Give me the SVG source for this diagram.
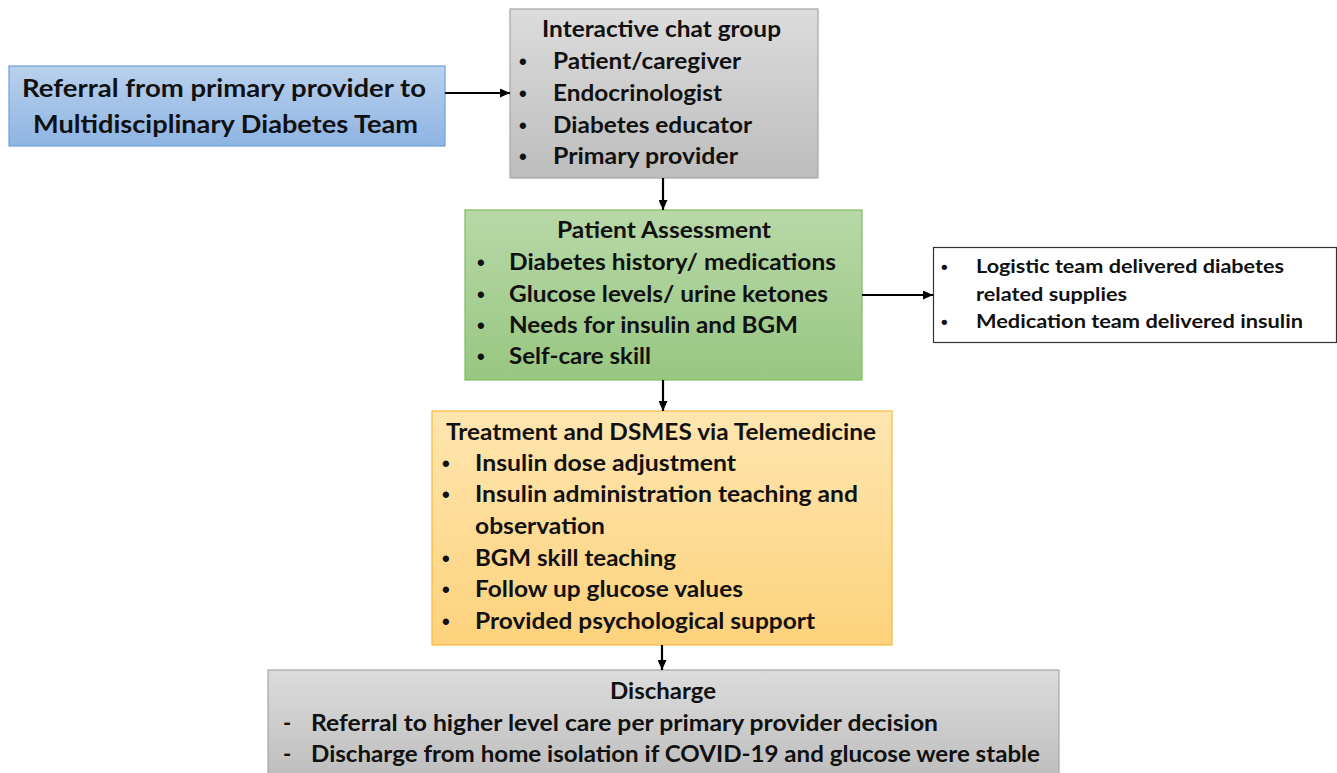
<svg xmlns="http://www.w3.org/2000/svg" width="1337" height="773" viewBox="0 0 1337 773">
<defs>
<linearGradient id="gBlue" x1="0" y1="0" x2="0" y2="1"><stop offset="0" stop-color="#b9d1ec"/><stop offset="1" stop-color="#8eb4e3"/></linearGradient>
<linearGradient id="gGray" x1="0" y1="0" x2="0" y2="1"><stop offset="0" stop-color="#dcdcdc"/><stop offset="1" stop-color="#bdbdbd"/></linearGradient>
<linearGradient id="gGreen" x1="0" y1="0" x2="0" y2="1"><stop offset="0" stop-color="#b8d8a8"/><stop offset="1" stop-color="#98c781"/></linearGradient>
<linearGradient id="gOrange" x1="0" y1="0" x2="0" y2="1"><stop offset="0" stop-color="#fee6b0"/><stop offset="1" stop-color="#fdd27c"/></linearGradient>
<marker id="arr" markerWidth="10" markerHeight="9" refX="10" refY="4.5" orient="auto" markerUnits="userSpaceOnUse"><path d="M0,0 L10,4.5 L0,9 Z" fill="#000"/></marker>
</defs>
<style>
text{font-family:Lato,"Open Sans","Liberation Sans",sans-serif;font-weight:bold;fill:#111;}
.b{font-family:"Liberation Sans",sans-serif;font-size:22px;}
.bs{font-family:"Liberation Sans",sans-serif;font-size:19px;}
.box{stroke-width:1.2;}
.conn line{stroke:#000;stroke-width:2.2;marker-end:url(#arr);}
</style>
<rect width="1337" height="773" fill="#fff"/>

<g id="referral">
<rect x="9" y="66" width="436" height="80" fill="url(#gBlue)" stroke="#6fa0d8" class="box"/>
<text x="22" y="97" font-size="25" textLength="404" lengthAdjust="spacingAndGlyphs">Referral from primary provider to</text>
<text x="33" y="133" font-size="25" textLength="385" lengthAdjust="spacingAndGlyphs">Multidisciplinary Diabetes Team</text>
</g>

<g id="chat">
<rect x="510" y="9" width="308" height="169" fill="url(#gGray)" stroke="#a6a6a6" class="box"/>
<text x="542" y="37" font-size="22" textLength="239" lengthAdjust="spacingAndGlyphs">Interactive chat group</text>
<g font-size="22">
<text class="b" x="519" y="69">•</text><text x="553" y="69" textLength="188" lengthAdjust="spacingAndGlyphs">Patient/caregiver</text>
<text class="b" x="519" y="101">•</text><text x="553" y="101" textLength="169" lengthAdjust="spacingAndGlyphs">Endocrinologist</text>
<text class="b" x="519" y="133">•</text><text x="553" y="133" textLength="199" lengthAdjust="spacingAndGlyphs">Diabetes educator</text>
<text class="b" x="519" y="164">•</text><text x="553" y="164" textLength="185" lengthAdjust="spacingAndGlyphs">Primary provider</text>
</g>
</g>

<g id="assessment">
<rect x="465" y="210" width="397" height="170" fill="url(#gGreen)" stroke="#82bb5f" class="box"/>
<text x="557" y="238" font-size="22" textLength="214" lengthAdjust="spacingAndGlyphs">Patient Assessment</text>
<g font-size="22">
<text class="b" x="477" y="270">•</text><text x="509" y="270" textLength="327" lengthAdjust="spacingAndGlyphs">Diabetes history/ medications</text>
<text class="b" x="477" y="302">•</text><text x="509" y="302" textLength="319" lengthAdjust="spacingAndGlyphs">Glucose levels/ urine ketones</text>
<text class="b" x="477" y="333">•</text><text x="509" y="333" textLength="289" lengthAdjust="spacingAndGlyphs">Needs for insulin and BGM</text>
<text class="b" x="477" y="364">•</text><text x="509" y="364" textLength="142" lengthAdjust="spacingAndGlyphs">Self-care skill</text>
</g>
</g>

<g id="supplies">
<rect x="933.5" y="247.5" width="403" height="95" fill="#fff" stroke="#333" class="box"/>
<g font-size="19">
<text class="bs" x="941" y="273">•</text><text x="976" y="273" textLength="308" lengthAdjust="spacingAndGlyphs">Logistic team delivered diabetes</text>
<text x="976" y="301" textLength="151" lengthAdjust="spacingAndGlyphs">related supplies</text>
<text class="bs" x="941" y="328">•</text><text x="976" y="328" textLength="327" lengthAdjust="spacingAndGlyphs">Medication  team delivered insulin</text>
</g>
</g>

<g id="treatment">
<rect x="432" y="411" width="460" height="234" fill="url(#gOrange)" stroke="#f5b93e" class="box"/>
<text x="446" y="440" font-size="22" textLength="430" lengthAdjust="spacingAndGlyphs">Treatment and DSMES via Telemedicine</text>
<g font-size="22">
<text class="b" x="442" y="471">•</text><text x="475" y="471" textLength="261" lengthAdjust="spacingAndGlyphs">Insulin dose adjustment</text>
<text class="b" x="442" y="502">•</text><text x="475" y="502" textLength="383" lengthAdjust="spacingAndGlyphs">Insulin administration teaching and</text>
<text x="475" y="534" textLength="130" lengthAdjust="spacingAndGlyphs">observation</text>
<text class="b" x="442" y="566">•</text><text x="475" y="566" textLength="201" lengthAdjust="spacingAndGlyphs">BGM skill teaching</text>
<text class="b" x="442" y="597">•</text><text x="475" y="597" textLength="268" lengthAdjust="spacingAndGlyphs">Follow up glucose values</text>
<text class="b" x="442" y="629">•</text><text x="475" y="629" textLength="340" lengthAdjust="spacingAndGlyphs">Provided psychological support</text>
</g>
</g>

<g id="discharge">
<rect x="268" y="670" width="791" height="110" fill="url(#gGray)" stroke="#a6a6a6" class="box"/>
<text x="610" y="699" font-size="22" textLength="106" lengthAdjust="spacingAndGlyphs">Discharge</text>
<g font-size="22">
<text x="283" y="731">-</text><text x="311" y="731" textLength="627" lengthAdjust="spacingAndGlyphs">Referral to higher level care per primary provider decision</text>
<text x="283" y="762">-</text><text x="311" y="762" textLength="729" lengthAdjust="spacingAndGlyphs">Discharge from home isolation if COVID-19 and glucose were stable</text>
</g>
</g>

<g id="connectors" class="conn">
<line x1="445" y1="93" x2="510" y2="93"/>
<line x1="663" y1="178" x2="663" y2="210"/>
<line x1="862" y1="295" x2="933" y2="295"/>
<line x1="663" y1="380" x2="663" y2="411"/>
<line x1="662" y1="645" x2="662" y2="670"/>
</g>
</svg>
